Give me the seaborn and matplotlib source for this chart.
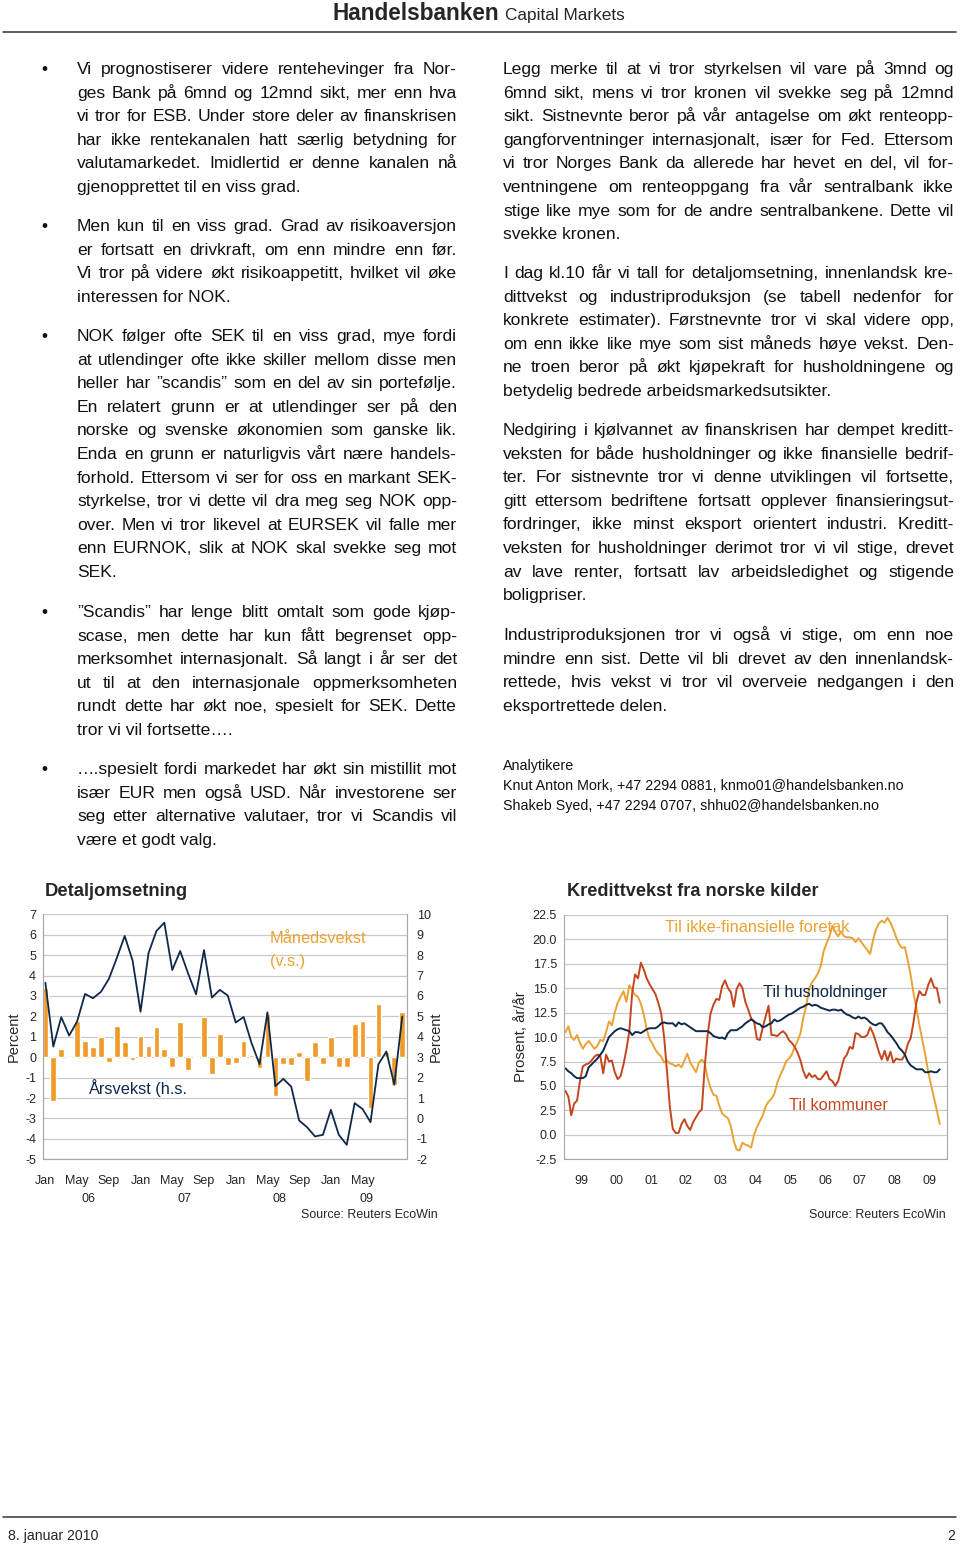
import numpy as np
import pandas as pd
import matplotlib
matplotlib.use("Agg")
import matplotlib.pyplot as plt
from matplotlib.lines import Line2D
import seaborn as sns

# =========================
# DATA
# =========================

# Detaljomsetning, Jan 2006 - Okt 2009
detalj_maned = [3.38, -2.12, 0.41, -0.03, 1.79, 0.8, 0.49, 0.98, -0.24, 1.53,
                0.75, -0.13, 1.04, 0.55, 1.47, 0.39, -0.49, 1.71, -0.65, -0.03,
                1.99, -0.82, 1.16, -0.39, -0.29, 0.8, 0.11, -0.55, 2.12, -1.92,
                -0.31, -0.39, 0.28, -1.16, 0.73, -0.31, 1.0, -0.49, -0.49, 1.61,
                1.75, -2.5, 2.61, 0.28, -1.35, 2.23]
detalj_aar = [6.65, 3.52, 4.96, 4.06, 4.75, 6.1, 5.89, 6.2, 6.83, 7.85,
              8.94, 7.73, 5.23, 8.09, 9.18, 9.59, 7.27, 8.2, 7.1, 6.08,
              8.25, 5.92, 6.3, 6.02, 4.7, 4.97, 3.69, 2.66, 5.2, 1.58,
              1.94, 1.56, -0.1, -0.43, -0.88, -0.8, 0.42, -0.8, -1.29, 0.75,
              0.46, -0.18, 2.66, 3.28, 1.65, 4.99]
detalj_mnd_labels = ["Jan", "May", "Sep"] * 3 + ["Jan", "May", ""]
detalj_aar_labels = ["06", "07", "08", "09"]

# Kredittvekst, Jan 1999 - Okt 2009 (prosent, år/år)
husholdninger = [6.8, 6.5, 6.3, 6.0, 5.8, 5.8, 5.8, 6.0, 6.9, 7.2, 7.5, 7.8,
                 8.2, 8.6, 9.3, 10.0, 10.3, 10.6, 10.8, 10.9, 10.8, 10.7, 10.6, 10.2,
                 10.5, 10.5, 10.4, 10.6, 10.8, 10.9, 10.9, 10.9, 11.1, 11.4, 11.5, 11.4,
                 11.4, 11.4, 11.1, 11.5, 11.3, 11.4, 11.2, 11.0, 10.8, 10.6, 10.6, 10.6,
                 10.6, 10.6, 10.4, 10.1, 10.0, 9.9, 9.95, 9.8, 10.4, 10.7, 10.7, 10.7,
                 10.9, 11.1, 11.4, 11.6, 11.8, 11.6, 11.4, 11.3, 11.0, 11.1, 11.3, 11.4,
                 11.8, 11.6, 11.7, 11.9, 12.1, 12.3, 12.4, 12.6, 12.8, 13.0, 13.1, 13.3,
                 13.4, 13.2, 13.3, 13.2, 13.0, 12.9, 12.8, 12.7, 12.8, 12.8, 12.7, 12.8,
                 12.5, 12.3, 12.2, 12.0, 11.9, 12.1, 11.9, 12.0, 11.8, 11.5, 11.3, 11.2,
                 11.4, 11.4, 11.0, 10.5, 10.2, 9.8, 9.4, 8.9, 8.6, 8.2, 7.5, 7.1,
                 6.9, 6.7, 6.7, 6.7, 6.4, 6.4, 6.5, 6.4, 6.4, 6.7]
kommuner = [4.5, 3.9, 2.0, 3.2, 3.5, 5.5, 7.0, 7.2, 7.3, 7.6, 8.0, 8.2,
            8.1, 6.3, 8.2, 7.5, 7.6, 6.4, 5.7, 6.0, 7.2, 8.7, 10.6, 14.5,
            16.4, 16.0, 17.6, 16.9, 16.0, 15.4, 14.9, 14.4, 13.5, 12.4, 10.0, 6.5,
            2.8, 0.6, 0.2, 0.2, 1.1, 1.6, 0.9, 0.5, 1.3, 1.8, 2.3, 2.6,
            7.0, 10.2, 12.4, 13.3, 13.9, 13.8, 15.2, 15.8, 15.0, 14.6, 13.1, 14.9,
            15.5, 15.0, 13.6, 12.8, 11.9, 11.6, 9.8, 9.7, 11.0, 12.1, 13.2, 10.2,
            10.2, 10.1, 10.4, 10.6, 10.3, 9.7, 9.4, 9.0, 8.4, 7.6, 6.5, 5.8,
            6.3, 5.9, 6.1, 5.7, 5.7, 6.1, 6.5, 5.7, 5.5, 5.0, 5.5, 6.7,
            7.8, 8.2, 9.0, 8.8, 10.4, 10.3, 10.0, 10.0, 10.2, 11.0, 10.4, 9.5,
            8.5, 7.7, 8.6, 7.6, 8.5, 7.4, 7.8, 7.7, 7.7, 8.2, 9.3, 9.9,
            11.6, 13.6, 14.7, 14.3, 14.3, 15.3, 16.0, 15.1, 15.0, 13.5]
foretak = [10.5, 11.1, 10.0, 9.7, 10.2, 9.4, 8.8, 9.3, 9.6, 9.2, 8.8, 9.1,
           9.7, 9.6, 10.5, 11.6, 11.2, 12.5, 13.5, 14.1, 14.7, 13.6, 15.3, 14.8,
           14.3, 14.1, 13.4, 12.3, 10.8, 9.8, 9.3, 8.7, 8.3, 8.0, 7.4, 7.6,
           7.3, 7.2, 7.0, 7.2, 6.9, 7.6, 8.3, 7.4, 6.9, 6.4, 7.4, 7.7,
           7.3, 5.8, 4.8, 4.1, 4.0, 3.0, 2.2, 1.9, 1.7, 0.9, -0.6, -1.5,
           -1.6, -0.8, -1.0, -1.1, -1.3, 0.0, 0.8, 1.4, 2.0, 2.9, 3.4, 3.7,
           4.2, 5.3, 6.1, 6.7, 7.5, 7.8, 8.2, 9.0, 9.6, 10.4, 12.0, 13.2,
           15.0, 15.6, 16.0, 16.5, 17.3, 18.8, 19.6, 20.3, 21.4, 20.7, 20.3, 20.8,
           20.3, 20.2, 20.2, 20.1, 19.7, 20.1, 19.7, 19.3, 18.9, 18.5, 19.9, 21.0,
           21.6, 21.9, 21.7, 22.2, 21.7, 21.0, 20.2, 19.5, 19.1, 19.2, 17.8, 16.3,
           14.4, 12.9, 11.2, 9.7, 8.2, 6.5, 5.1, 3.8, 2.5, 1.1]
kreditt_aar_labels = ["99", "00", "01", "02", "03", "04", "05", "06", "07", "08", "09"]

# =========================
# TEKST
# =========================

venstre_avsnitt = [
    ["Vi prognostiserer videre rentehevinger fra Nor-",
     "ges Bank på 6mnd og 12mnd sikt, mer enn hva",
     "vi tror for ESB. Under store deler av finanskrisen",
     "har ikke rentekanalen hatt særlig betydning for",
     "valutamarkedet. Imidlertid er denne kanalen nå",
     "gjenopprettet til en viss grad."],
    ["Men kun til en viss grad. Grad av risikoaversjon",
     "er fortsatt en drivkraft, om enn mindre enn før.",
     "Vi tror på videre økt risikoappetitt, hvilket vil øke",
     "interessen for NOK."],
    ["NOK følger ofte SEK til en viss grad, mye fordi",
     "at utlendinger ofte ikke skiller mellom disse men",
     "heller har \u201dscandis\u201d som en del av sin portefølje.",
     "En relatert grunn er at utlendinger ser på den",
     "norske og svenske økonomien som ganske lik.",
     "Enda en grunn er naturligvis vårt nære handels-",
     "forhold. Ettersom vi ser for oss en markant SEK-",
     "styrkelse, tror vi dette vil dra meg seg NOK opp-",
     "over. Men vi tror likevel at EURSEK vil falle mer",
     "enn EURNOK, slik at NOK skal svekke seg mot",
     "SEK."],
    ["\u201dScandis\u201d har lenge blitt omtalt som gode kjøp-",
     "scase, men dette har kun fått begrenset opp-",
     "merksomhet internasjonalt. Så langt i år ser det",
     "ut til at den internasjonale oppmerksomheten",
     "rundt dette har økt noe, spesielt for SEK. Dette",
     "tror vi vil fortsette\u2026."],
    ["\u2026.spesielt fordi markedet har økt sin mistillit mot",
     "især EUR men også USD. Når investorene ser",
     "seg etter alternative valutaer, tror vi Scandis vil",
     "være et godt valg."],
]
venstre_start = [68, 225, 335, 611, 768]

hoyre_avsnitt = [
    ["Legg merke til at vi tror styrkelsen vil vare på 3mnd og",
     "6mnd sikt, mens vi tror kronen vil svekke seg på 12mnd",
     "sikt. Sistnevnte beror på vår antagelse om økt renteopp-",
     "gangforventninger internasjonalt, især for Fed. Ettersom",
     "vi tror Norges Bank da allerede har hevet en del, vil for-",
     "ventningene om renteoppgang fra vår sentralbank ikke",
     "stige like mye som for de andre sentralbankene. Dette vil",
     "svekke kronen."],
    ["I dag kl.10 får vi tall for detaljomsetning, innenlandsk kre-",
     "dittvekst og industriproduksjon (se tabell nedenfor for",
     "konkrete estimater). Førstnevnte tror vi skal videre opp,",
     "om enn ikke like mye som sist måneds høye vekst. Den-",
     "ne troen beror på økt kjøpekraft for husholdningene og",
     "betydelig bedrede arbeidsmarkedsutsikter."],
    ["Nedgiring i kjølvannet av finanskrisen har dempet kreditt-",
     "veksten for både husholdninger og ikke finansielle bedrif-",
     "ter. For sistnevnte tror vi denne utviklingen vil fortsette,",
     "gitt ettersom bedriftene fortsatt opplever finansieringsut-",
     "fordringer, ikke minst eksport orientert industri. Kreditt-",
     "veksten for husholdninger derimot tror vi vil stige, drevet",
     "av lave renter, fortsatt lav arbeidsledighet og stigende",
     "boligpriser."],
    ["Industriproduksjonen tror vi også vi stige, om enn noe",
     "mindre enn sist. Dette vil bli drevet av den innenlandsk-",
     "rettede, hvis vekst vi tror vil overveie nedgangen i den",
     "eksportrettede delen."],
]
hoyre_start = [68, 272, 429, 634]

analytikere = ["Analytikere",
               "Knut Anton Mork, +47 2294 0881, knmo01@handelsbanken.no",
               "Shakeb Syed, +47 2294 0707, shhu02@handelsbanken.no"]

# =========================
# OPPSETT
# =========================

sns.set_style("white")
plt.rcParams["font.family"] = ["Liberation Sans", "DejaVu Sans"]
plt.rcParams["axes.unicode_minus"] = False

W, H = 960, 1546
LINJE = 23.6
TEKST = 12.6
ORANSJE_BAR = "#F09A28"
ORANSJE = "#E9A234"
MARINE = "#10294A"
ROD = "#C4461E"
GRID = "#C9C9C9"
SPINE = "#A8A8A8"

fig = plt.figure(figsize=(W / 100, H / 100), dpi=100)
renderer = fig.canvas.get_renderer()


def fx(x):
    return x / W


def fy(y):
    return 1 - y / H


def bredde(s, **kw):
    t = fig.text(0, 0, s, **kw)
    w = t.get_window_extent(renderer=renderer).width
    t.remove()
    return w


def skriv_avsnitt(linjer, x0, x1, y_senter, kule=False):
    for i, linje in enumerate(linjer):
        yb = y_senter + i * LINJE + 6
        if i == len(linjer) - 1:
            fig.text(fx(x0), fy(yb), linje, fontsize=TEKST, va="baseline", color="#111111")
            continue
        ord_ = linje.split(" ")
        b = [bredde(o, fontsize=TEKST) for o in ord_]
        gap = (x1 - x0 - sum(b)) / max(len(ord_) - 1, 1)
        x = x0
        for o, w in zip(ord_, b):
            fig.text(fx(x), fy(yb), o, fontsize=TEKST, va="baseline", color="#111111")
            x += w + gap
    if kule:
        fig.text(fx(44), fy(y_senter + 6), "\u2022", fontsize=12.5, ha="center",
                 va="baseline", color="#111111")


# header / footer
fig.text(fx(333), fy(20), "Handelsbanken", fontsize=16.3, fontweight="bold", va="baseline")
fig.text(fx(505), fy(20), "Capital Markets", fontsize=12.4, va="baseline")
fig.add_artist(Line2D([fx(3), fx(956)], [fy(32), fy(32)], transform=fig.transFigure,
                      color="#333333", lw=1.1))
fig.add_artist(Line2D([fx(3), fx(956)], [fy(1517), fy(1517)], transform=fig.transFigure,
                      color="#333333", lw=1.1))
fig.text(fx(8), fy(1540), "8. januar 2010", fontsize=10.2, va="baseline")
fig.text(fx(955), fy(1540), "2", fontsize=10.2, va="baseline", ha="right")

for linjer, y0 in zip(venstre_avsnitt, venstre_start):
    skriv_avsnitt(linjer, 77, 457, y0, kule=True)
for linjer, y0 in zip(hoyre_avsnitt, hoyre_start):
    skriv_avsnitt(linjer, 503, 954, y0)
for i, linje in enumerate(analytikere):
    fig.text(fx(503), fy(770 + i * 20), linje, fontsize=10.3, va="baseline", color="#111111")

# =========================
# DETALJOMSETNING
# =========================

pos = np.arange(len(detalj_maned))
ax1 = fig.add_axes([fx(43), fy(1159.3), (407 - 43) / W, (1159.3 - 914.3) / H])
sns.barplot(x=pos, y=detalj_maned, ax=ax1, color=ORANSJE_BAR, width=0.72,
            native_scale=True, saturation=1)
ax1.set_xlim(-0.3, 45.6)
ax1.set_ylim(-5, 7)
ax1.set_yticks(range(-5, 8))
ax1.grid(axis="y", color=GRID, lw=0.9)
ax1.set_axisbelow(True)
ax1.set_xticks(pos[::4])
ax1.set_xticklabels(detalj_mnd_labels)
ax1.tick_params(axis="x", length=4, width=0.8, color=SPINE, labelsize=9, pad=7)
ax1.tick_params(axis="y", length=0, labelsize=9, pad=5)
ax1.set_xlabel("")
ax1.set_ylabel("")

ax2 = ax1.twinx()
sns.lineplot(x=pos, y=detalj_aar, ax=ax2, color=MARINE, lw=1.3)
ax2.set_ylim(-2, 10)
ax2.set_yticks(range(-2, 11))
ax2.tick_params(axis="y", length=0, labelsize=9, pad=7)
ax2.set_ylabel("")
for a in (ax1, ax2):
    for s in a.spines.values():
        s.set_color(SPINE)
        s.set_linewidth(0.8)
    a.spines["top"].set_visible(False)

for k, lab in enumerate(detalj_aar_labels):
    inne = pos[12 * k:12 * k + 12]
    ax1.annotate(lab, xy=(inne.mean(), 0), xycoords=("data", "axes fraction"),
                 xytext=(0, -28.8), textcoords="offset points", ha="center",
                 va="center", fontsize=9)

fig.text(fx(45), fy(896), "Detaljomsetning", fontsize=13.3, fontweight="bold", va="baseline")
fig.text(fx(270), fy(943), "Månedsvekst", fontsize=11.8, color=ORANSJE, va="baseline")
fig.text(fx(270), fy(966), "(v.s.)", fontsize=11.8, color=ORANSJE, va="baseline")
fig.text(fx(88), fy(1094), "Årsvekst (h.s.", fontsize=11.8, color=MARINE, va="baseline")
fig.text(fx(14), fy(1037), "Percent", fontsize=10.5, rotation=90, ha="center", va="center")
fig.text(fx(436), fy(1037), "Percent", fontsize=10.5, rotation=90, ha="center", va="center")
fig.text(fx(438), fy(1218), "Source: Reuters EcoWin", fontsize=9, ha="right", va="baseline")

# =========================
# KREDITTVEKST
# =========================

mnd = np.arange(len(husholdninger))
kreditt = pd.DataFrame({
    "mnd": np.concatenate([mnd, mnd, mnd]),
    "vekst": foretak + kommuner + husholdninger,
    "serie": (["Til ikke-finansielle foretak"] * len(mnd) + ["Til kommuner"] * len(mnd)
              + ["Til husholdninger"] * len(mnd)),
})
farger = {"Til ikke-finansielle foretak": ORANSJE, "Til kommuner": ROD,
          "Til husholdninger": MARINE}

ax3 = fig.add_axes([fx(564), fy(1159.3), (947 - 564) / W, (1159.3 - 914.8) / H])
sns.lineplot(data=kreditt, x="mnd", y="vekst", hue="serie", palette=farger,
             ax=ax3, lw=1.4, legend=False)
ax3.set_xlim(-0.5, 131.5)
ax3.set_ylim(-2.5, 22.5)
yt = np.arange(-2.5, 22.6, 2.5)
ax3.set_yticks(yt)
ax3.set_yticklabels([f"{v:.1f}" for v in yt])
ax3.grid(axis="y", color=GRID, lw=0.9)
ax3.set_axisbelow(True)
ax3.set_xticks(np.arange(-0.5, 132, 12))
ax3.set_xticklabels([])
ax3.set_xticks(np.arange(5.5, 132, 12), minor=True)
ax3.set_xticklabels(kreditt_aar_labels, minor=True)
ax3.tick_params(axis="x", which="major", length=5, width=0.8, color=SPINE)
ax3.tick_params(axis="x", which="minor", length=0, labelsize=9, pad=11)
ax3.tick_params(axis="y", length=0, labelsize=9, pad=5)
ax3.set_xlabel("")
ax3.set_ylabel("")
for s in ax3.spines.values():
    s.set_color(SPINE)
    s.set_linewidth(0.8)
ax3.spines["top"].set_visible(False)

fig.text(fx(567), fy(896), "Kredittvekst fra norske kilder", fontsize=13.1,
         fontweight="bold", va="baseline")
fig.text(fx(665), fy(932), "Til ikke-finansielle foretak", fontsize=11.8, color=ORANSJE, va="baseline")
fig.text(fx(763), fy(997), "Til husholdninger", fontsize=11.8, color=MARINE, va="baseline")
fig.text(fx(789), fy(1110), "Til kommuner", fontsize=11.8, color=ROD, va="baseline")
fig.text(fx(521), fy(1037), "Prosent, år/år", fontsize=10.8, rotation=90, ha="center", va="center")
fig.text(fx(946), fy(1218), "Source: Reuters EcoWin", fontsize=9, ha="right", va="baseline")

fig.savefig("out.png", dpi=100, facecolor="white")
